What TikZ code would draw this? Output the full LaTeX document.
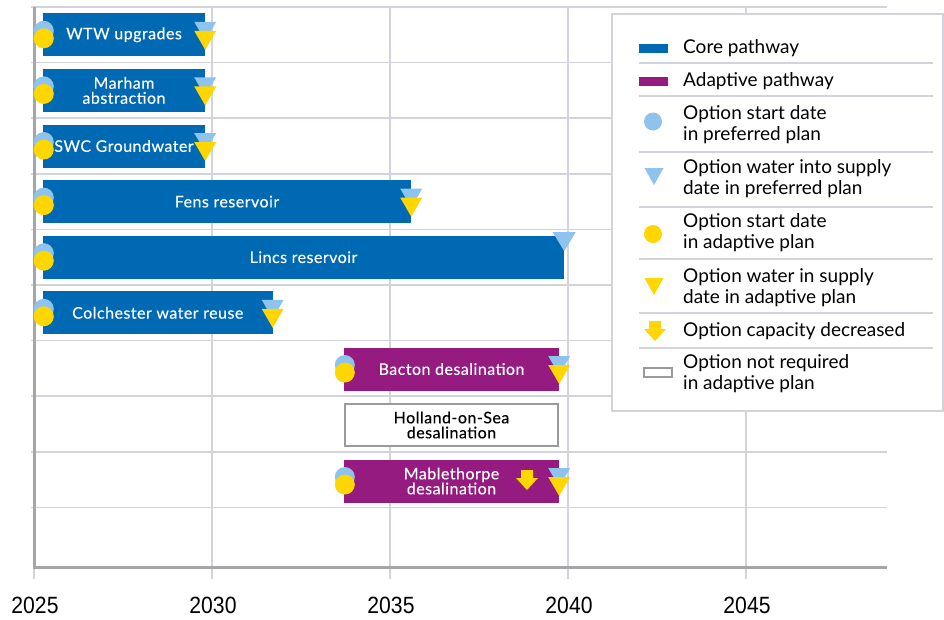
\documentclass[tikz,border=0pt]{standalone}
\usepackage{fontspec}
\setmainfont{Lato}
\newfontfamily\barfont[LetterSpace=3, FakeBold=0.2]{Lato}
\newfontfamily\axisfont[FakeStretch=0.9]{Liberation Sans}
\definecolor{coreblue}{RGB}{0,105,179}
\definecolor{adaptpurple}{RGB}{149,27,129}
\definecolor{prefblue}{RGB}{141,195,236}
\definecolor{sunyellow}{RGB}{255,214,0}
\definecolor{gridgray}{RGB}{211,211,219}
\definecolor{axisgray}{RGB}{166,166,166}
\definecolor{boxgray}{RGB}{154,154,154}

\begin{document}
\begin{tikzpicture}[x=1pt, y=-1pt,
  bar/.style={minimum height=43pt, inner sep=0pt, align=center, text=white,
              font=\barfont\fontsize{16}{15}\selectfont},
  core/.style={bar, fill=coreblue},
  adapt/.style={bar, fill=adaptpurple},
  notreq/.style={bar, minimum height=43pt, draw=boxgray, line width=2pt, fill=white, text=black},
  grid/.style={gridgray, line width=1.5pt},
  axis/.style={axisgray, line width=3pt},
  yearlbl/.style={font=\axisfont\fontsize{23.5}{23.5}\selectfont, inner sep=0pt},
  lgtext/.style={anchor=west, align=left, inner sep=0pt,
                 font=\fontsize{19}{21}\selectfont},
  sep/.style={gridgray, line width=1.2pt},
  startmk/.pic={\fill[prefblue] (1,-4) circle (10pt); \fill[sunyellow] (1,3.5) circle (10pt);},
  supplymk/.pic={\fill[prefblue] (-11,-13) -- (11,-13) -- (0,6) -- cycle;
                 \fill[sunyellow] (-11,-4) -- (11,-4) -- (0,15) -- cycle;},
  prefmk/.pic={\fill[prefblue] (-11.5,-25) -- (11.5,-25) -- (0,-6) -- cycle;},
  downmk/.pic={\fill[sunyellow] (-6,-10) -- (6,-10) -- (6,-2) -- (11,-2) -- (0,10)
                 -- (-11,-2) -- (-6,-2) -- cycle;}]
\useasboundingbox (0,0) rectangle (944,619);
\foreach \i in {0,...,9} \draw[grid] (31,{7+55.6*\i}) -- (887,{7+55.6*\i});
\foreach \k in {1,...,4} \draw[grid] ({34+178*\k},7) -- ({34+178*\k},579);
\draw[grid] (34,567) -- (34,579);
\draw[axis] (34,7) -- (34,567) -- (887,567);
\foreach \yr [count=\k from 0] in {2025,2030,2035,2040,2045}
  \node[yearlbl] (y\yr) at ({35+178*\k},605.5) {\yr};

\node[core, minimum width=162pt] (wtw) at (124,34.8) {WTW upgrades};
\node[core, minimum width=162pt] (marham) at (124,90.4) {Marham\\abstraction};
\node[core, minimum width=162pt] (swc) at (124,146) {SWC Groundwater};
\node[core, minimum width=368pt] (fens) at (227,201.6) {Fens reservoir};
\node[core, minimum width=521pt] (lincs) at (303.5,257.2) {Lincs reservoir};
\node[core, minimum width=229.5pt] (colch) at (157.75,312.8) {Colchester water reuse};
\node[adapt, minimum width=215pt] (bacton) at (451.5,369) {Bacton desalination};
\node[notreq, minimum width=213pt, minimum height=42pt] (holland) at (451.5,425) {Holland-on-Sea\\desalination};
\node[adapt, minimum width=215pt] (mable) at (451.5,481) {Mablethorpe\\desalination};

\foreach \b in {wtw,marham,swc,fens,lincs,colch,bacton,mable} \pic at (\b.west) {startmk};
\foreach \b in {wtw,marham,swc,fens,colch,bacton,mable} \pic at (\b.east) {supplymk};
\pic at (lincs.east) {prefmk};
\pic at (527,480) {downmk};

\draw[fill=white, draw=gridgray, line width=1.5pt] (612,14) rectangle (943,411);
\fill[coreblue] (639,44) rectangle (668,52.5);
\fill[adaptpurple] (639,77) rectangle (668,86);
\fill[prefblue] (653,121.5) circle (9pt);
\fill[prefblue] (644.5,168) -- (663.5,168) -- (654,185) -- cycle;
\fill[sunyellow] (653,234) circle (9pt);
\fill[sunyellow] (644.5,278) -- (663.5,278) -- (654,295) -- cycle;
\pic at (655,331) {downmk};
\draw[boxgray, line width=2pt] (643.5,367.5) rectangle (671.5,377);
\foreach \s in {63,96,152,207,259,313,348} \draw[sep] (639,\s) -- (933,\s);

\node[lgtext] (lgcore) at (683,48) {Core pathway};
\node[lgtext] (lgadapt) at (683,81) {Adaptive pathway};
\node[lgtext] (lgstartp) at (683,124.5) {Option start date\\in preferred plan};
\node[lgtext] (lgsupplyp) at (683,178.5) {Option water into supply\\date in preferred plan};
\node[lgtext] (lgstarta) at (683,233) {Option start date\\in adaptive plan};
\node[lgtext] (lgsupplya) at (683,287.5) {Option water in supply\\date in adaptive plan};
\node[lgtext] (lgcap) at (683,331) {Option capacity decreased};
\node[lgtext] (lgnotreq) at (683,374) {Option not required\\in adaptive plan};
\end{tikzpicture}
\end{document}
